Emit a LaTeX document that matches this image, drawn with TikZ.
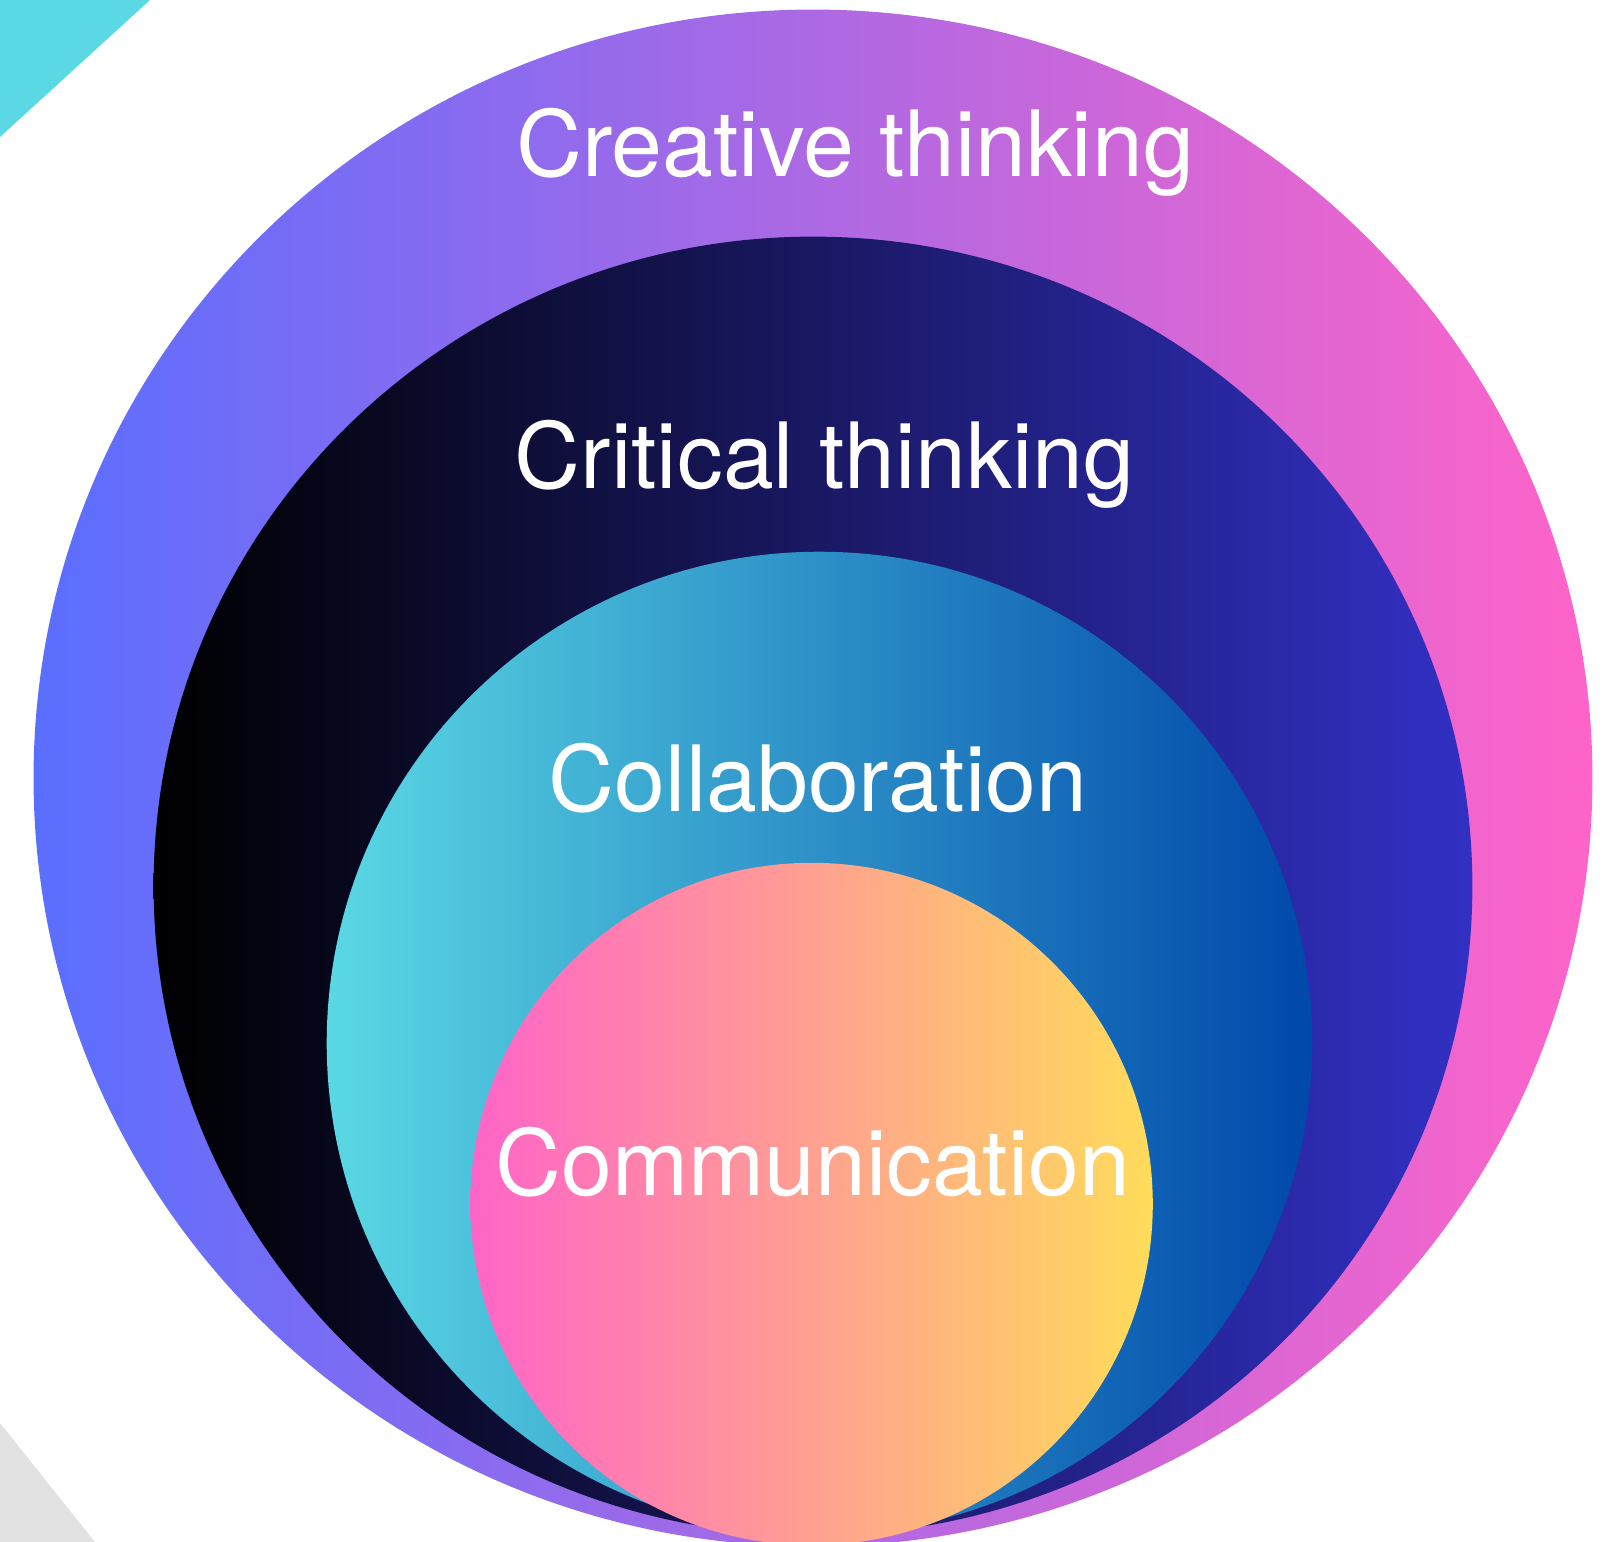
\documentclass[tikz,border=0pt]{standalone}
\usepackage{fontspec}
\setmainfont{TeX Gyre Heros}
\usepackage{xcolor}
\usepackage{tikz}
\usetikzlibrary{shapes.geometric}

\definecolor{skyblue}{RGB}{90,110,255}
\definecolor{hotpink}{RGB}{255,100,200}
\definecolor{nightblue}{RGB}{50,48,196}
\definecolor{aqua}{RGB}{90,216,228}
\definecolor{deepblue}{RGB}{0,72,170}
\definecolor{sunyellow}{RGB}{255,220,90}
\definecolor{cornergray}{RGB}{226,226,226}

\tikzset{
	ring/.style={ellipse, inner sep=0pt, draw=none},
	ringlabel/.style={text=white, anchor=base, font=\fontsize{26}{31}\selectfont}
}

\begin{document}
\begin{tikzpicture}[x=0.01cm,y=-0.01cm]
			\useasboundingbox (0,0) rectangle (1611,1542);
			\clip (0,0) rectangle (1611,1542);
			% corner triangles
			\fill[aqua] (0,0) -- (150,0) -- (0,137) -- cycle;
			\fill[cornergray] (0,1423) -- (95,1542) -- (0,1542) -- cycle;
			% nested rings
			\node[ring, minimum width=15.58cm, minimum height=15.36cm,
				left color=skyblue, right color=hotpink] (creative) at (813,778) {};
			\node[ring, minimum width=13.18cm, minimum height=12.98cm,
				left color=black, right color=nightblue] (critical) at (813,886) {};
			\node[ring, minimum width=9.85cm, minimum height=9.82cm,
				left color=aqua, right color=deepblue] (collab) at (819.5,1043) {};
			\node[ring, minimum width=6.82cm, minimum height=6.82cm,
				left color=hotpink, right color=sunyellow] (commun) at (811.6,1204) {};
			% labels
			\node[ringlabel] (creativetext) at (855,176.7) {Creative thinking};
			\node[ringlabel] (criticaltext) at (824.5,488) {Critical thinking};
			\node[ringlabel] (collabtext) at (818,811.6) {Collaboration};
			\node[ringlabel] (communtext) at (812.7,1195) {Communication};
\end{tikzpicture}
\end{document}
